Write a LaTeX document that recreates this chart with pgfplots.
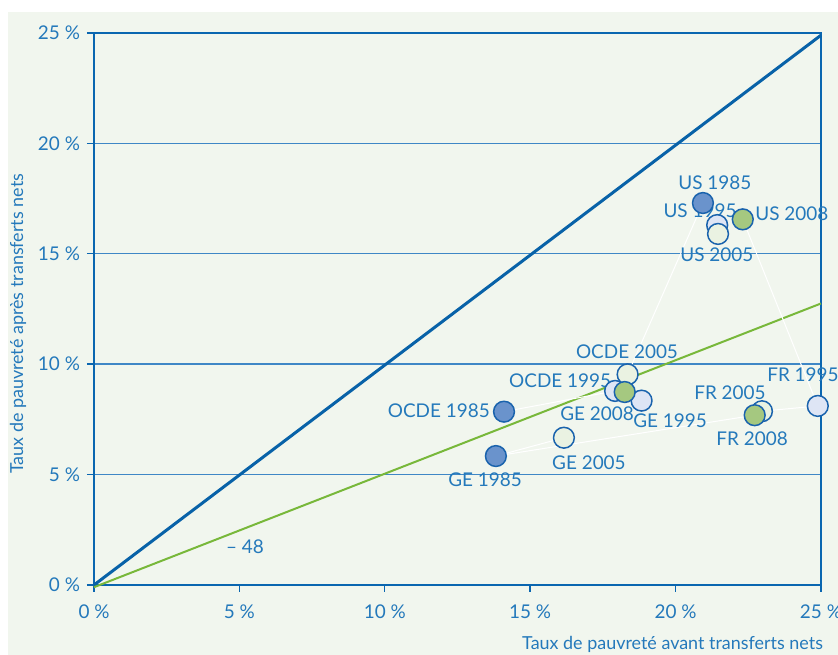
\documentclass[border=0pt]{standalone}
\usepackage{pgfplots}
\pgfplotsset{compat=1.18}
\usepackage{fontspec}
\setmainfont{Lato}
\usetikzlibrary{backgrounds}

\definecolor{bgpanel}{HTML}{F1F6EE}
\definecolor{axisblue}{HTML}{0A66B0}
\definecolor{gridblue}{HTML}{3F87C6}
\definecolor{txtblue}{HTML}{2479BB}
\definecolor{diagblue}{HTML}{0862A8}
\definecolor{lgreen}{HTML}{78B83A}
\definecolor{c85}{HTML}{6A93CC}
\definecolor{c95}{HTML}{DEE5F5}
\definecolor{c05}{HTML}{EAF2E2}
\definecolor{c08}{HTML}{A5C880}
\definecolor{edgeblue}{HTML}{1A63AD}

\begin{document}
\begin{tikzpicture}[font=\fontsize{9.5}{11}\selectfont]
\begin{axis}[
    scale only axis,
    width=363.5bp, height=276bp,
    xmin=0, xmax=25, ymin=0, ymax=25,
    xtick={0,5,...,25}, ytick={0,5,...,25},
    xticklabel={\pgfmathprintnumber{\tick}~\%},
    yticklabel={\pgfmathprintnumber{\tick}~\%},
    /pgf/number format/assume math mode=true,
    ticklabel style={text=txtblue},
    xticklabel style={yshift=-3bp},
    tick style={axisblue, line width=0.7bp},
    major tick length=3.5bp,
    tick align=outside,
    xtick pos=bottom, ytick pos=left,
    ymajorgrids,
    grid style={gridblue, line width=0.7bp},
    axis line style={axisblue, line width=0.7bp},
    clip=false,
    every axis y label/.style={at={(rel axis cs:-0.1045,0.473)}, rotate=90, anchor=center, text=txtblue, font=\fontsize{9}{11}\selectfont},
    every axis x label/.style={at={(rel axis cs:1.0124,-0.108)}, anchor=east, text=txtblue, font=\fontsize{9}{11}\selectfont},
    xlabel={Taux de pauvreté avant transferts nets},
    ylabel={Taux de pauvreté après transferts nets},
]
% panel corners
\coordinate (bgA) at (rel axis cs:-0.1183,-0.1268);
\coordinate (bgB) at (rel axis cs:1.0234,1.038);
\coordinate (wA) at (rel axis cs:-0.1293,-0.1268);
\coordinate (wB) at (rel axis cs:1.0234,1.0598);

% thicker left and bottom axis
\addplot[axisblue, line width=1.1bp] coordinates {(0,25) (0,0) (25,0)};

% reference lines
\addplot[diagblue, line width=1.5bp] coordinates {(0,0) (25,24.9)};
\addplot[lgreen, line width=1bp] coordinates {(0,-0.1) (25,12.75)};

% faint white links
\addplot[white, line width=0.5bp] coordinates {(20.94,17.30) (18.35,9.54)};
\addplot[white, line width=0.5bp] coordinates {(22.31,16.56) (24.89,8.11)};
\addplot[white, line width=0.5bp] coordinates {(14.10,7.85) (17.92,8.79)};
\addplot[white, line width=0.5bp] coordinates {(13.82,5.84) (16.16,6.67)};
\addplot[white, line width=0.5bp] coordinates {(13.82,5.84) (22.72,7.69)};
\addplot[white, line width=0.5bp] coordinates {(22.97,7.87) (24.89,8.11)};

% labels
\begin{scope}[every node/.style={text=txtblue, inner sep=0pt}]
\node at (axis cs:21.35,18.21) {US 1985};
\node at (axis cs:20.84,16.94) {US 1995};
\node at (axis cs:24.00,16.80) {US 2008};
\node at (axis cs:21.42,14.95) {US 2005};
\node at (axis cs:18.33,10.55) {OCDE 2005};
\node at (axis cs:16.03,9.24) {OCDE 1995};
\node at (axis cs:11.86,7.88) {OCDE 1985};
\node at (axis cs:17.30,7.74) {GE 2008};
\node at (axis cs:19.81,7.43) {GE 1995};
\node at (axis cs:13.45,4.76) {GE 1985};
\node at (axis cs:17.02,5.53) {GE 2005};
\node at (axis cs:21.87,8.70) {FR 2005};
\node at (axis cs:22.63,6.61) {FR 2008};
\node at (axis cs:24.38,9.51) {FR 1995};
\node at (axis cs:5.19,1.72) {-- 48};
\end{scope}

% points
\addplot[only marks, mark=*, mark size=5.2bp, mark options={fill=c95, draw=edgeblue, line width=0.75bp}]
  coordinates {(21.43,16.30) (17.92,8.79) (18.83,8.35) (24.89,8.11)};
\addplot[only marks, mark=*, mark size=5.2bp, mark options={fill=c05, draw=edgeblue, line width=0.75bp}]
  coordinates {(21.46,15.90) (18.35,9.54) (16.16,6.67) (22.97,7.87)};
\addplot[only marks, mark=*, mark size=5.2bp, mark options={fill=c08, draw=edgeblue, line width=0.75bp}]
  coordinates {(22.31,16.56) (18.25,8.74) (22.72,7.69)};
\addplot[only marks, mark=*, mark size=5.2bp, mark options={fill=c85, draw=edgeblue, line width=0.75bp}]
  coordinates {(20.94,17.30) (14.10,7.85) (13.82,5.84)};
\end{axis}
\begin{scope}[on background layer]
\fill[white] (wA) rectangle (wB);
\fill[bgpanel] (bgA) rectangle (bgB);
\end{scope}
\pgfresetboundingbox
\path[use as bounding box] (wA) rectangle (wB);
\end{tikzpicture}
\end{document}
